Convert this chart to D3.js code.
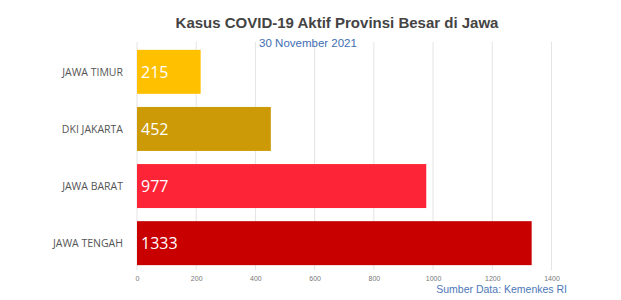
<!DOCTYPE html>
<html><head><meta charset="utf-8">
<script src="https://cdn.jsdelivr.net/npm/d3@7"></script>
<style>body{margin:0;background:#fff}svg{display:block}</style>
</head><body>
<svg id="c" width="621" height="300"></svg>
<script>
const categories = ["JAWA TIMUR", "DKI JAKARTA", "JAWA BARAT", "JAWA TENGAH"];
const values = [215, 452, 977, 1333];
const colors = ["#FFC000", "#CC9A06", "#FE2437", "#C80000"];
const ticks = [0, 200, 400, 600, 800, 1000, 1200, 1400];

const svg = d3.select("#c");
const x = d3.scaleLinear().domain([0, 1400]).range([137, 551.5]);
const y = d3.scaleBand().domain(categories).range([43, 272]).paddingInner(0.23).paddingOuter(0.12);

// gridlines
svg.append("g").selectAll("line").data(ticks).join("line")
  .attr("x1", d => x(d)).attr("x2", d => x(d))
  .attr("y1", 42).attr("y2", 270)
  .attr("stroke", "#e4e4e4").attr("stroke-width", 1);

// axis labels
const ax = d3.axisBottom(x).tickValues(ticks).tickFormat(d3.format("d")).tickSize(0).tickPadding(0);
const g = svg.append("g").attr("transform", "translate(0,276)").call(ax);
g.select(".domain").remove();
g.selectAll("text").attr("font-family", "Liberation Sans, Arial, sans-serif")
  .attr("font-size", 7).attr("fill", "#777");

// bars
svg.append("g").selectAll("rect").data(values).join("rect")
  .attr("x", x(0)).attr("y", (d, i) => y(categories[i]))
  .attr("width", d => x(d) - x(0)).attr("height", y.bandwidth())
  .attr("fill", (d, i) => colors[i]);

// value labels
svg.append("g").selectAll("text").data(values).join("text")
  .attr("x", x(0) + 4).attr("y", (d, i) => y(categories[i]) + y.bandwidth() / 2)
  .attr("dy", "0.36em").text(d => d)
  .attr("font-family", "Open Sans, sans-serif").attr("font-size", 16)
  .attr("fill", "#fff");

// category labels
svg.append("g").selectAll("text").data(categories).join("text")
  .attr("x", 123).attr("y", d => y(d) + y.bandwidth() / 2)
  .attr("dy", "0.36em").attr("text-anchor", "end").text(d => d)
  .attr("font-family", "Open Sans, sans-serif").attr("font-size", 10.5)
  .attr("fill", "#555");

// titles
svg.append("text").attr("x", 337).attr("y", 28).attr("text-anchor", "middle")
  .attr("font-family", "Liberation Sans, Arial, sans-serif").attr("font-weight", "bold")
  .attr("font-size", 15).attr("fill", "#444")
  .text("Kasus COVID-19 Aktif Provinsi Besar di Jawa");
svg.append("text").attr("x", 308).attr("y", 47).attr("text-anchor", "middle")
  .attr("font-family", "Liberation Sans, Arial, sans-serif")
  .attr("font-size", 11.5).attr("fill", "#3f6db3")
  .text("30 November 2021");
svg.append("text").attr("x", 567).attr("y", 293).attr("text-anchor", "end")
  .attr("font-family", "Liberation Sans, Arial, sans-serif")
  .attr("font-size", 10.5).attr("fill", "#4d77b8")
  .text("Sumber Data: Kemenkes RI");
</script>
</body></html>
